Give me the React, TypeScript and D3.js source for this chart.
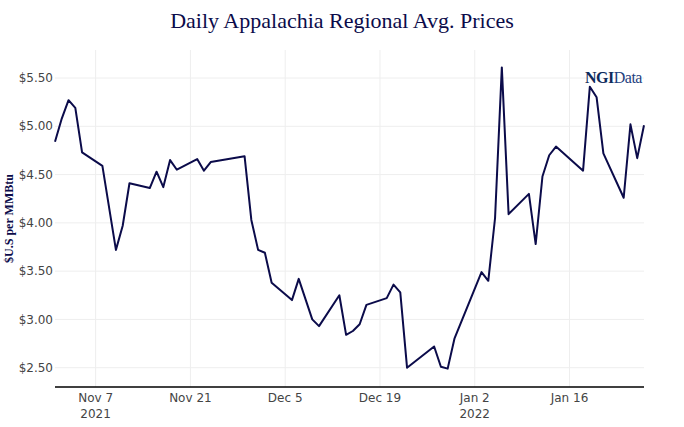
import React from "react";
import * as d3 from "d3";

const dates: string[] = [
  "2021-11-01", "2021-11-02", "2021-11-03", "2021-11-04", "2021-11-05",
  "2021-11-08", "2021-11-10", "2021-11-11", "2021-11-12",
  "2021-11-15", "2021-11-16", "2021-11-17", "2021-11-18", "2021-11-19",
  "2021-11-22", "2021-11-23", "2021-11-24",
  "2021-11-29", "2021-11-30", "2021-12-01", "2021-12-02", "2021-12-03",
  "2021-12-06", "2021-12-07", "2021-12-09", "2021-12-10",
  "2021-12-13", "2021-12-14", "2021-12-15", "2021-12-16", "2021-12-17",
  "2021-12-20", "2021-12-21", "2021-12-22", "2021-12-23",
  "2021-12-27", "2021-12-28", "2021-12-29", "2021-12-30",
  "2022-01-03", "2022-01-04", "2022-01-05", "2022-01-06", "2022-01-07",
  "2022-01-10", "2022-01-11", "2022-01-12", "2022-01-13", "2022-01-14",
  "2022-01-18", "2022-01-19", "2022-01-20", "2022-01-21",
  "2022-01-24", "2022-01-25", "2022-01-26", "2022-01-27",
];

const prices: number[] = [
  4.84, 5.08, 5.27, 5.19, 4.73,
  4.59, 3.72, 3.97, 4.41,
  4.36, 4.53, 4.37, 4.65, 4.55,
  4.66, 4.54, 4.63,
  4.69, 4.03, 3.72, 3.69, 3.38,
  3.20, 3.42, 3.00, 2.93,
  3.25, 2.84, 2.88, 2.95, 3.15,
  3.22, 3.36, 3.28, 2.50,
  2.72, 2.51, 2.49, 2.80,
  3.49, 3.40, 4.05, 5.61, 4.09,
  4.30, 3.78, 4.48, 4.70, 4.79,
  4.54, 5.41, 5.30, 4.72,
  4.26, 5.02, 4.67, 5.01,
];

const yTicks: number[] = [2.5, 3, 3.5, 4, 4.5, 5, 5.5];
const xTickDates: string[] = ["2021-11-07", "2021-11-21", "2021-12-05", "2021-12-19", "2022-01-02", "2022-01-16"];
const xTickLabels: string[][] = [["Nov 7", "2021"], ["Nov 21"], ["Dec 5"], ["Dec 19"], ["Jan 2", "2022"], ["Jan 16"]];

const title = "Daily Appalachia Regional Avg. Prices";
const yTitle = "$U.S per MMBtu";

const W = 684;
const H = 427;
const M = { left: 55, right: 40, top: 50, bottom: 40 };

const parse = (s: string) => {
  const [y, m, d] = s.split("-").map(Number);
  return new Date(y, m - 1, d);
};

export default function App() {
  const data = dates.map((d, i) => ({ date: parse(d), value: prices[i] }));
  const x = d3
    .scaleTime()
    .domain([parse(dates[0]), parse(dates[dates.length - 1])])
    .range([M.left, W - M.right]);
  const y = d3.scaleLinear().domain([2.3, 5.79]).range([H - M.bottom, M.top]);
  const line = d3
    .line<{ date: Date; value: number }>()
    .x((d) => x(d.date))
    .y((d) => y(d.value));
  const fmt = (v: number) => "$" + d3.format(".2f")(v);
  const tickFont = "'DejaVu Sans', Verdana, sans-serif";
  const navy = "#0b0b4a";

  return (
    <svg width={W} height={H} style={{ position: "absolute", left: 0, top: 0, background: "#fff" }}>
      <rect x={0} y={0} width={W} height={H} fill="#fff" />
      {/* grid */}
      {xTickDates.map((d) => (
        <line key={"gx" + d} x1={x(parse(d))} x2={x(parse(d))} y1={M.top} y2={H - M.bottom} stroke="#eeeeee" strokeWidth={1} />
      ))}
      {yTicks.map((t) => (
        <line key={"gy" + t} x1={M.left} x2={W - M.right} y1={y(t)} y2={y(t)} stroke="#eeeeee" strokeWidth={1} />
      ))}
      {/* y tick labels */}
      {yTicks.map((t) => (
        <text key={"ty" + t} x={M.left - 2} y={y(t)} dy="0.35em" textAnchor="end" fontFamily={tickFont} fontSize={12} fill="#444">
          {fmt(t)}
        </text>
      ))}
      {/* x tick labels */}
      {xTickDates.map((d, i) => (
        <text key={"tx" + d} x={x(parse(d))} y={H - M.bottom + 15} textAnchor="middle" fontFamily={tickFont} fontSize={12} fill="#444">
          {xTickLabels[i].map((l, j) => (
            <tspan key={j} x={x(parse(d))} dy={j === 0 ? 0 : 16}>
              {l}
            </tspan>
          ))}
        </text>
      ))}
      {/* axis line */}
      <line x1={M.left} x2={W - M.right} y1={H - M.bottom} y2={H - M.bottom} stroke="#000" strokeWidth={1.3} />
      {/* data line */}
      <path d={line(data) || ""} fill="none" stroke={navy} strokeWidth={2} strokeLinejoin="round" />
      {/* title */}
      <text x={W / 2} y={28} textAnchor="middle" fontFamily="'Liberation Serif', 'Times New Roman', serif" fontSize={22} fill={navy}>
        {title}
      </text>
      {/* y title */}
      <text
        transform={`translate(13, ${(M.top + H - M.bottom) / 2}) rotate(-90)`}
        textAnchor="middle"
        fontFamily="'Liberation Serif', 'Times New Roman', serif"
        fontWeight="bold"
        fontSize={12}
        fill={navy}
      >
        {yTitle}
      </text>
      {/* logo */}
      <text x={585} y={83} fontFamily="'Liberation Serif', 'Times New Roman', serif" fontSize={16} letterSpacing={-0.5}>
        <tspan fontWeight="bold" fill="#0d2a5c">NGI</tspan>
        <tspan fill="#1f3f80">Data</tspan>
      </text>
    </svg>
  );
}
